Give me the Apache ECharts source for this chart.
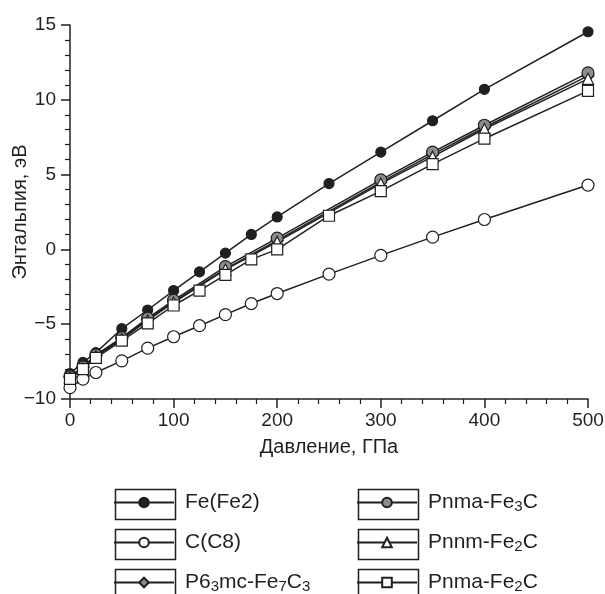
<!DOCTYPE html>
<html>
<head>
    <meta charset="UTF-8" />
    <script src="https://cdn.jsdelivr.net/npm/echarts@6/dist/echarts.min.js"></script>
</head>
<body style="margin: 0; overflow: hidden; background: #fff;">
    <div id="chart" style="width: 605px; height: 594px;"></div>
    <script type="text/javascript">
        // давление, ГПа
        const pressure = [0, 12.5, 25, 50, 75, 100, 125, 150, 175, 200, 250, 300, 350, 400, 500];
        const pressureShort = [0, 12.5, 25, 50, 75, 100, 150, 200, 300, 350, 400, 500];

        // энтальпия, эВ
        const feFe2 = [-8.3, -7.55, -6.9, -5.3, -4.05, -2.75, -1.5, -0.25, 1.0, 2.17, 4.4, 6.5, 8.6, 10.7, 14.55];
        const cC8 = [-9.24, -8.67, -8.23, -7.45, -6.6, -5.84, -5.1, -4.36, -3.62, -2.95, -1.65, -0.4, 0.82, 2.0, 4.3];
        const fe7c3 = [-8.5, -7.9, -7.1, -5.95, -4.7, -3.5, -1.3, 0.6, 4.5, 6.35, 8.15, 11.6];
        const fe3c = [-8.5, -7.85, -7.05, -5.9, -4.6, -3.4, -1.15, 0.75, 4.65, 6.5, 8.3, 11.8];
        const pnnmFe2c = [-8.55, -7.95, -7.15, -6.0, -4.75, -3.55, -1.35, 0.5, 4.4, 6.2, 8.05, 11.4];
        const pnmaFe2c = [-8.65, -8.0, -7.25, -6.1, -4.95, -3.75, -2.75, -1.7, -0.67, 0.0, 2.25, 3.9, 5.7, 7.4, 10.6];

        const xTicks = [0, 100, 200, 300, 400, 500];
        const yTicks = [-10, -5, 0, 5, 10, 15];

        // порядок в легенде: левый столбец, затем правый
        const legendNames = ['Fe(Fe2)', 'C(C8)', 'P63mc-Fe7C3', 'Pnma-Fe3C', 'Pnnm-Fe2C', 'Pnma-Fe2C'];
        const legendRich = {
            'Fe(Fe2)': '{a|Fe(Fe2)}',
            'C(C8)': '{a|C(C8)}',
            'P63mc-Fe7C3': '{a|P6}{s|3}{a|mc-Fe}{s|7}{a|C}{s|3}',
            'Pnma-Fe3C': '{a|Pnma-Fe}{s|3}{a|C}',
            'Pnnm-Fe2C': '{a|Pnnm-Fe}{s|2}{a|C}',
            'Pnma-Fe2C': '{a|Pnma-Fe}{s|2}{a|C}'
        };

        const ink = '#231f20';
        const font = 'Liberation Sans, Arial, sans-serif';

        function pairs(xs, ys) {
            return xs.map((x, i) => [x, ys[i]]);
        }

        function makeSeries(name, xs, ys, symbol, size, fill) {
            return {
                name: name,
                type: 'line',
                data: pairs(xs, ys),
                symbol: symbol,
                symbolSize: size,
                clip: false,
                lineStyle: { color: ink, width: 1.5 },
                itemStyle: { color: fill, borderColor: ink, borderWidth: 1.2 },
                emphasis: { disabled: true }
            };
        }

        const chart = echarts.init(document.getElementById('chart'));

        const colX = [113, 356];
        const rowY = [487, 527, 567];

        // по одной легенде на элемент и рамка вокруг значка
        const legends = [];
        const boxes = [];
        legendNames.forEach((n, i) => {
            const bx = colX[Math.floor(i / 3)];
            const by = rowY[i % 3];
            legends.push({
                left: bx,
                top: by + 5,
                padding: 0,
                itemWidth: 60,
                itemHeight: 12,
                selectedMode: false,
                data: [n],
                formatter: (s) => legendRich[s],
                textStyle: {
                    padding: [0, 0, 0, 6],
                    rich: {
                        a: { fontFamily: font, fontSize: 21, color: ink },
                        s: { fontFamily: font, fontSize: 15, color: ink, padding: [9, 0, 0, 0] }
                    }
                }
            });
            boxes.push({
                type: 'rect',
                left: bx, top: by,
                shape: { width: 60, height: 30 },
                style: { fill: 'none', stroke: ink, lineWidth: 1.5 }
            });
        });

        const option = {
            animation: false,
            backgroundColor: '#fff',
            grid: { left: 70, top: 25, width: 518, height: 374, outerBoundsMode: 'none' },
            xAxis: {
                type: 'value',
                min: 0, max: 500, interval: 100,
                name: 'Давление, ГПа',
                nameLocation: 'middle',
                nameGap: 38,
                nameTextStyle: { fontFamily: font, fontSize: 20, color: ink },
                axisLine: { onZero: false, lineStyle: { color: ink, width: 1.5 } },
                axisTick: { length: 9, lineStyle: { color: ink, width: 1.5 } },
                minorTick: { show: true, splitNumber: 5, length: 5, lineStyle: { color: ink, width: 1.2 } },
                axisLabel: {
                    fontFamily: font, fontSize: 19, color: ink, margin: 12,
                    formatter: (v) => xTicks.includes(v) ? String(v) : ''
                },
                splitLine: { show: false }
            },
            yAxis: {
                type: 'value',
                min: -10, max: 15, interval: 5,
                name: 'Энтальпия, эВ',
                nameLocation: 'middle',
                nameGap: 40,
                nameMoveOverlap: false,
                nameTextStyle: { fontFamily: font, fontSize: 20, color: ink },
                axisLine: { show: true, onZero: false, lineStyle: { color: ink, width: 1.5 } },
                axisTick: { show: true, length: 9, lineStyle: { color: ink, width: 1.5 } },
                minorTick: { show: true, splitNumber: 5, length: 5, lineStyle: { color: ink, width: 1.2 } },
                axisLabel: {
                    fontFamily: font, fontSize: 19, color: ink, margin: 14,
                    formatter: (v) => yTicks.includes(v) ? String(v).replace('-', '\u2212') : ''
                },
                splitLine: { show: false }
            },
            legend: legends,
            graphic: boxes,
            series: [
                makeSeries('Fe(Fe2)', pressure, feFe2, 'circle', 10, ink),
                makeSeries('C(C8)', pressure, cC8, 'circle', 12, '#fff'),
                makeSeries('P63mc-Fe7C3', pressureShort, fe7c3, 'diamond', 12, '#8c8c8c'),
                makeSeries('Pnma-Fe3C', pressureShort, fe3c, 'circle', 12, '#8c8c8c'),
                makeSeries('Pnnm-Fe2C', pressureShort, pnnmFe2c, 'triangle', 11, '#fff'),
                makeSeries('Pnma-Fe2C', pressure, pnmaFe2c, 'rect', 11, '#fff')
            ]
        };

        chart.setOption(option);
    </script>
</body>
</html>
